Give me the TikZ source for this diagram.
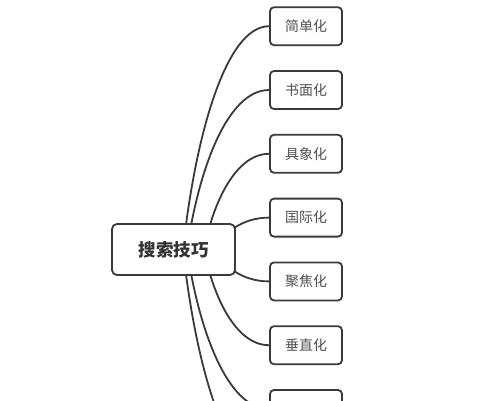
\documentclass[tikz,border=0pt]{standalone}
\usepackage{fontspec}
\newfontfamily\cjk{Noto Sans CJK SC}
\usetikzlibrary{backgrounds}
\definecolor{linec}{HTML}{3A3A3A}
\definecolor{rootc}{HTML}{333333}
\definecolor{leafc}{HTML}{505050}
\tikzset{
  rootbox/.style={draw=linec, line width=1.8pt, rounded corners=5pt, fill=white,
    minimum width=123pt, minimum height=51pt, inner sep=0pt,
    font=\cjk\bfseries\fontsize{17.5}{17.5}\selectfont, text=rootc},
  leafbox/.style={draw=linec, line width=1.8pt, rounded corners=4pt, fill=white,
    minimum width=72pt, minimum height=38pt, inner sep=0pt,
    font=\cjk\fontsize{14}{14}\selectfont, text=leafc},
  branch/.style={draw=linec, line width=1.8pt}
}
\begin{document}
\begin{tikzpicture}[x=1pt,y=-1pt]
\useasboundingbox (0,0) rectangle (502,400);
\clip (0,0) rectangle (502,400);
\node[rootbox] (root) at (173.5,249.5) {搜索技巧};
\node[leafbox] (c1) at (306,26.2) {简单化};
\node[leafbox] (c2) at (306,90) {书面化};
\node[leafbox] (c3) at (306,153.8) {具象化};
\node[leafbox] (c4) at (306,217.6) {国际化};
\node[leafbox] (c5) at (306,281.4) {聚焦化};
\node[leafbox] (c6) at (306,345.2) {垂直化};
\node[leafbox] (c7) at (306,409) {};
\node[leafbox] (c8) at (306,472.8) {};
\coordinate (s1) at (183,249.5);
\coordinate (s2) at (187,249.5);
\coordinate (s3) at (204,249.5);
\coordinate (s4) at (215,249.5);
\coordinate (s5) at (215,249.5);
\coordinate (s6) at (204,249.5);
\coordinate (s7) at (187,249.5);
\coordinate (s8) at (183,249.5);
\begin{scope}[on background layer]
\fill[white] (0,0) rectangle (502,400);
\draw[branch] (s1) .. controls (194.8,140.1) and (224.8,26.2) .. (c1.west);
\draw[branch] (s2) .. controls (198.3,171.3) and (226.8,90) .. (c2.west);
\draw[branch] (s3) .. controls (213.0,202.6) and (235.7,153.8) .. (c3.west);
\draw[branch] (s4) .. controls (222.5,233.9) and (241.4,217.6) .. (c4.west);
\draw[branch] (s5) .. controls (222.5,265.1) and (241.4,281.4) .. (c5.west);
\draw[branch] (s6) .. controls (213.0,296.4) and (235.7,345.2) .. (c6.west);
\draw[branch] (s7) .. controls (198.3,327.7) and (226.8,409) .. (c7.west);
\draw[branch] (s8) .. controls (194.8,358.9) and (224.8,472.8) .. (c8.west);
\end{scope}
\end{tikzpicture}
\end{document}
